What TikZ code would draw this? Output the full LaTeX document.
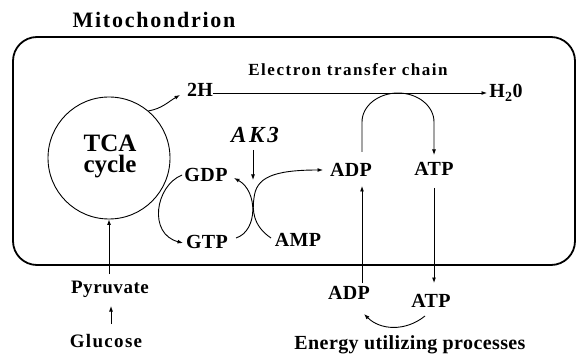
\documentclass[tikz,border=0pt]{standalone}
\usepackage{fontspec}
\setmainfont{Liberation Serif}
\usetikzlibrary{arrows.meta}
\begin{document}
\begin{tikzpicture}[x=1pt,y=1pt,
  arr/.style={line width=0.9pt,-{Latex[length=5.5pt,width=4pt]}},
  lbl/.style={inner sep=0pt,anchor=base,font=\fontsize{20}{20}\selectfont\bfseries\addfontfeature{LetterSpace=2}},
  big/.style={inner sep=0pt,anchor=base,align=center,font=\fontsize{25}{21}\selectfont\bfseries},
  title/.style={inner sep=0pt,anchor=base,font=\fontsize{22}{22}\selectfont\bfseries\addfontfeature{LetterSpace=8}},
  chain/.style={inner sep=0pt,anchor=base,font=\fontsize{17}{17}\selectfont\bfseries\addfontfeature{LetterSpace=9}},
  enz/.style={inner sep=0pt,anchor=base,font=\fontsize{23}{23}\selectfont\bfseries\itshape\addfontfeature{LetterSpace=12}},
  outer/.style={inner sep=0pt,anchor=base,font=\fontsize{19}{19}\selectfont\bfseries\addfontfeature{LetterSpace=3}},
  glc/.style={inner sep=0pt,anchor=base,font=\fontsize{19}{19}\selectfont\bfseries\addfontfeature{LetterSpace=7}}
]
\useasboundingbox (0,0) rectangle (577,356);

% mitochondrion membrane
\node[draw,line width=1.8pt,rounded corners=24pt,minimum width=562pt,minimum height=228pt,inner sep=0pt] (mito) at (294,205) {};
\node[title] (mt) at (154,328) {Mitochondrion};

% TCA cycle
\node[draw,circle,line width=0.9pt,minimum size=122pt,inner sep=0pt] (tca) at (109,198) {};
\node[big] (tcat) at (110,183) {TCA\\cycle};

% labels
\node[lbl] (h2) at (200,259) {2H};
\node[lbl] (h2o) at (506,258) {H\textsubscript{2}0};
\node[chain] (etc) at (348,280) {Electron transfer chain};
\node[lbl] (gdp) at (206,174) {GDP};
\node[lbl] (gtp) at (207,108) {GTP};
\node[lbl] (amp) at (298,110) {AMP};
\node[enz] (ak) at (255,213) {AK3};
\node[lbl] (adpi) at (351,179) {ADP};
\node[lbl] (atpi) at (434,180) {ATP};
\node[lbl] (adpo) at (349,57) {ADP};
\node[lbl] (atpo) at (431,49) {ATP};
\node[outer] (pyr) at (110,63) {Pyruvate};
\node[glc] (glc) at (106,9) {Glucose};
\node[lbl] (eup) at (410,7) {Energy utilizing processes};

% end points
\coordinate (hs) at (213,263);
\coordinate (he) at (487,263);
\coordinate (al) at (362,204);
\coordinate (ar) at (434,201);
\coordinate (ib) at (362,73);
\coordinate (it) at (362,170);
\coordinate (ot) at (434,168);
\coordinate (ob) at (434,73);
\coordinate (ls) at (425,40);
\coordinate (le) at (364,42);
\coordinate (ps) at (109,82);
\coordinate (gs) at (111,32);
\coordinate (ge) at (111,50);
\coordinate (ks) at (253,206);
\coordinate (ke) at (253,176);
\coordinate (dS) at (182,181);
\coordinate (dE) at (183,113);
\coordinate (tS) at (236,118);
\coordinate (tE) at (234,178);
\coordinate (mS) at (271,118);
\coordinate (mM) at (254,158);
\coordinate (mE) at (323,186);
\coordinate (hE) at (180,261);

% connectors
\draw[arr] (tca.50) to[out=10,in=210] (hE);
\draw[arr] (hs) -- (he);
\draw[arr] (al) -- ++(0,30) arc[start angle=180,end angle=0,x radius=36,y radius=29] -- (ar);
\draw[arr] (ib) -- (it);
\draw[arr] (ot) -- (ob);
\draw[arr] (ls) .. controls (405,24) and (380,26) .. (le);
\draw[arr] (ps) -- (tca.south);
\draw[arr] (gs) -- (ge);
\draw[arr] (ks) -- (ke);
\draw[arr] (dS) .. controls (155,170) and (148,122) .. (dE);
\draw[arr] (tS) .. controls (258,125) and (258,165) .. (tE);
\draw[arr] (mS) .. controls (253,130) and (252,146) .. (mM) .. controls (256,178) and (272,186) .. (mE);
\end{tikzpicture}
\end{document}
